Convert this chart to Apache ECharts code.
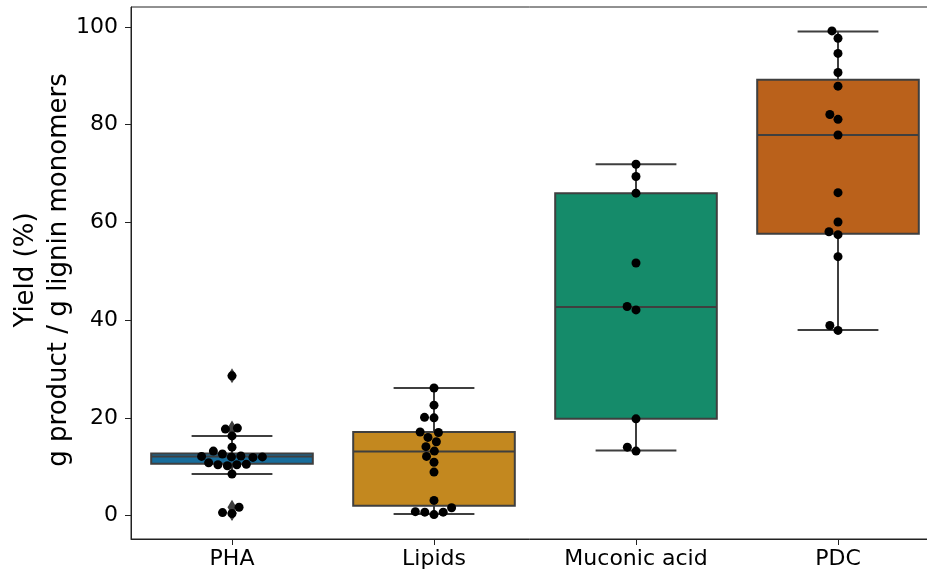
<!DOCTYPE html>
<html>
<head>
<meta charset="utf-8">
<script src="https://cdn.jsdelivr.net/npm/echarts@6/dist/echarts.min.js"></script>
<style>
html,body{margin:0;padding:0;background:#fff;}
#chart{width:927px;height:573px;}
</style>
</head>
<body>
<div id="chart"></div>
<script>
// ---- data ----
const categories = ['PHA', 'Lipids', 'Muconic acid', 'PDC'];
const boxMin    = [8.5, 0.3, 13.3, 38.0];
const boxQ1     = [10.6, 2.0, 19.8, 57.7];
const boxMedian = [12.1, 13.1, 42.7, 77.9];
const boxQ3     = [12.7, 17.1, 66.0, 89.2];
const boxMax    = [16.3, 26.1, 71.9, 99.1];
const phaValues = [28.6, 17.9, 17.7, 16.3, 14.0, 13.2, 12.6, 12.2, 12.1, 12.0, 12.0, 11.9, 10.8, 10.5, 10.4, 10.4, 10.2, 8.5, 1.7, 0.6, 0.4];
const lipidValues = [26.1, 22.6, 20.1, 20.0, 17.1, 17.0, 16.0, 15.1, 14.1, 13.2, 12.1, 10.9, 8.9, 3.1, 1.6, 0.8, 0.7, 0.7, 0.2];
const muconicValues = [71.9, 69.4, 66.0, 51.7, 42.8, 42.1, 19.8, 14.0, 13.2];
const pdcValues = [99.2, 97.7, 94.6, 90.7, 87.9, 82.1, 81.1, 77.9, 66.1, 60.1, 58.1, 57.5, 53.0, 38.9, 37.9];
const outliersPHA = [28.6, 17.9, 17.7, 1.7, 0.6, 0.4];
const yTicks = [0, 20, 40, 60, 80, 100];
const boxColors = ['#176d9c', '#c3881f', '#158b6a', '#ba611b'];

const groups = [phaValues, lipidValues, muconicValues, pdcValues];
const outlierGroups = [outliersPHA, [], [], []];
const FONT = 'DejaVu Sans';
const LINE = '#3f3f3f';

const chart = echarts.init(document.getElementById('chart'), null, {renderer: 'canvas'});

const boxData = categories.map((c, i) => [i, boxMin[i], boxQ1[i], boxMedian[i], boxQ3[i], boxMax[i]]);
const outlierData = [];
outlierGroups.forEach((g, i) => g.forEach(v => outlierData.push([i, v])));

function renderBox(params, api) {
  const i = api.value(0);
  const band = api.size([1, 0])[0];
  const cx = api.coord([i, 0])[0];
  const yMin = api.coord([i, api.value(1)])[1];
  const yQ1 = api.coord([i, api.value(2)])[1];
  const yMed = api.coord([i, api.value(3)])[1];
  const yQ3 = api.coord([i, api.value(4)])[1];
  const yMax = api.coord([i, api.value(5)])[1];
  const bw = band * 0.8;
  const cw = bw * 0.5;
  const ls = {stroke: LINE, lineWidth: 2};
  return {
    type: 'group',
    children: [
      {type: 'line', shape: {x1: cx, y1: yQ3, x2: cx, y2: yMax}, style: ls},
      {type: 'line', shape: {x1: cx, y1: yQ1, x2: cx, y2: yMin}, style: ls},
      {type: 'line', shape: {x1: cx - cw / 2, y1: yMax, x2: cx + cw / 2, y2: yMax}, style: ls},
      {type: 'line', shape: {x1: cx - cw / 2, y1: yMin, x2: cx + cw / 2, y2: yMin}, style: ls},
      {type: 'rect', shape: {x: cx - bw / 2, y: yQ3, width: bw, height: yQ1 - yQ3},
        style: {fill: boxColors[i], stroke: LINE, lineWidth: 2}},
      {type: 'line', shape: {x1: cx - bw / 2, y1: yMed, x2: cx + bw / 2, y2: yMed}, style: ls}
    ]
  };
}

function baseOption(pointData) {
  return {
    animation: false,
    backgroundColor: '#fff',
    grid: {left: 131, top: 7, width: 808, height: 532, show: true, borderColor: '#222', borderWidth: 1,
      containLabel: false, outerBoundsMode: 'none'},
    xAxis: [{
      type: 'category', data: categories, boundaryGap: true,
      axisLine: {show: true, onZero: false, lineStyle: {color: '#222', width: 1}},
      axisTick: {show: true, alignWithLabel: true, length: 6, lineStyle: {color: '#222'}},
      axisLabel: {fontFamily: FONT, fontSize: 22, color: '#000', margin: 9},
      splitLine: {show: false}
    }, {
      type: 'value', min: -0.5, max: 3.5, show: false, splitLine: {show: false},
      axisLine: {show: false, onZero: false}
    }],
    yAxis: [{
      type: 'value', min: -4.8, max: 104.1,
      axisLine: {show: true, onZero: false, lineStyle: {color: '#222', width: 1}},
      axisTick: {show: true, length: 6, lineStyle: {color: '#222'}, customValues: yTicks},
      axisLabel: {fontFamily: FONT, fontSize: 22, color: '#000', margin: 13, customValues: yTicks},
      splitLine: {show: false}
    }],
    graphic: [{
      type: 'text', x: 43, y: 270, rotation: Math.PI / 2,
      style: {text: 'Yield (%)\ng product / g lignin monomers', fontFamily: FONT, fontSize: 26,
        lineHeight: 33, fill: '#000', align: 'center', verticalAlign: 'middle'}
    }],
    series: [{
      type: 'custom', xAxisIndex: 0, yAxisIndex: 0, renderItem: renderBox, data: boxData, z: 2,
      encode: {x: 0, y: [1, 2, 3, 4, 5]}
    }, {
      type: 'scatter', xAxisIndex: 1, yAxisIndex: 0, data: outlierData, symbol: 'diamond',
      symbolSize: [9, 15], itemStyle: {color: LINE, opacity: 1}, z: 3, silent: true
    }, {
      type: 'scatter', xAxisIndex: 1, yAxisIndex: 0, data: pointData, symbol: 'circle',
      symbolSize: 9, itemStyle: {color: '#000', opacity: 1}, z: 4, silent: true
    }]
  };
}

chart.setOption(baseOption([]));

// swarm layout computed in pixel space from the axis scales
const py0 = chart.convertToPixel({yAxisIndex: 0}, 0);
const py100 = chart.convertToPixel({yAxisIndex: 0}, 100);
const pxPerY = (py0 - py100) / 100;
const pxPerX = chart.convertToPixel({xAxisIndex: 1}, 1) - chart.convertToPixel({xAxisIndex: 1}, 0);
const D = 9.5;

function swarm(vals) {
  const order = vals.map((v, i) => i).sort((a, b) => vals[a] - vals[b]);
  const placed = [];
  const offs = new Array(vals.length).fill(0);
  order.forEach(i => {
    const y = vals[i] * pxPerY;
    const nb = placed.filter(p => Math.abs(p.y - y) < D);
    const cands = [[0, 0]];
    nb.forEach(p => {
      const dx = Math.sqrt(D * D - (p.y - y) * (p.y - y));
      cands.push([p.x - dx, cands.length]);
      cands.push([p.x + dx, cands.length]);
    });
    cands.sort((a, b) => (Math.abs(a[0]) - Math.abs(b[0])) || (a[1] - b[1]));
    for (const [c] of cands) {
      if (nb.every(p => (p.x - c) * (p.x - c) + (p.y - y) * (p.y - y) >= D * D - 1e-3)) {
        placed.push({x: c, y: y});
        offs[i] = c / pxPerX;
        break;
      }
    }
  });
  return offs;
}

const pointData = [];
groups.forEach((g, gi) => {
  const offs = swarm(g);
  g.forEach((v, k) => pointData.push([gi + offs[k], v]));
});

chart.setOption(baseOption(pointData));
</script>
</body>
</html>
